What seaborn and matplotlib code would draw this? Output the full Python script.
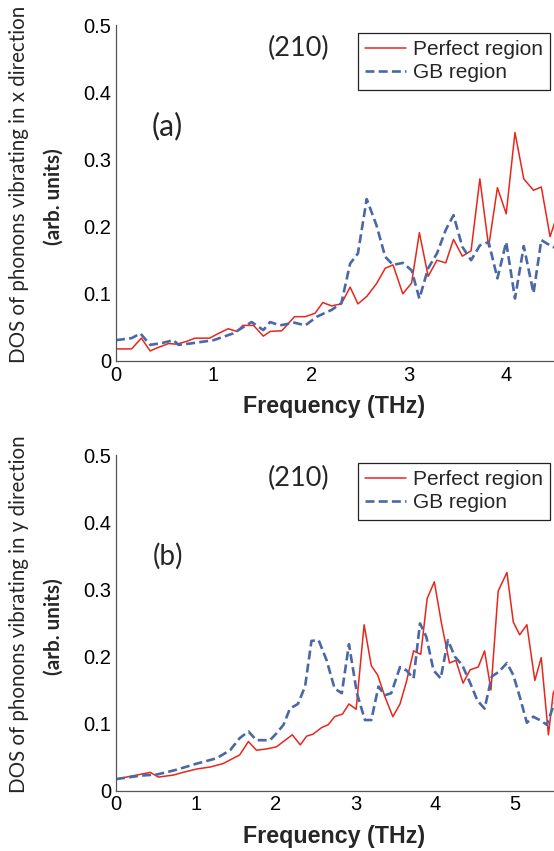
import numpy as np
import pandas as pd
import matplotlib
matplotlib.use("Agg")
import matplotlib.pyplot as plt
import seaborn as sns

# ---------------- data ----------------
# Panel (a): x direction
freq_a_perfect = [0.00, 0.16, 0.26, 0.35, 0.43, 0.54, 0.62, 0.72, 0.81, 0.96, 1.05, 1.15, 1.24,
                  1.30, 1.41, 1.51, 1.58, 1.70, 1.83, 1.94, 2.04, 2.12, 2.21, 2.31, 2.40, 2.48,
                  2.57, 2.67, 2.76, 2.84, 2.94, 3.03, 3.11, 3.20, 3.29, 3.38, 3.46, 3.55, 3.64,
                  3.73, 3.82, 3.91, 4.00, 4.09, 4.18, 4.28, 4.36, 4.45, 4.55]
dos_a_perfect = [0.018, 0.018, 0.034, 0.015, 0.020, 0.026, 0.025, 0.029, 0.034, 0.034, 0.041, 0.048, 0.044,
                 0.053, 0.053, 0.037, 0.044, 0.045, 0.066, 0.066, 0.071, 0.087, 0.082, 0.085, 0.110, 0.085,
                 0.096, 0.115, 0.138, 0.143, 0.100, 0.116, 0.191, 0.126, 0.150, 0.146, 0.181, 0.156, 0.164,
                 0.271, 0.170, 0.258, 0.219, 0.340, 0.271, 0.254, 0.259, 0.185, 0.230]
freq_a_gb = [0.00, 0.16, 0.25, 0.35, 0.48, 0.59, 0.64, 0.76, 1.00, 1.20, 1.39, 1.51, 1.58, 1.68,
             1.83, 1.94, 2.06, 2.21, 2.31, 2.40, 2.48, 2.57, 2.67, 2.76, 2.84, 2.94, 3.03, 3.11,
             3.20, 3.29, 3.38, 3.46, 3.55, 3.64, 3.73, 3.82, 3.91, 4.00, 4.09, 4.18, 4.28, 4.36,
             4.45, 4.55]
dos_a_gb = [0.031, 0.034, 0.041, 0.024, 0.027, 0.031, 0.024, 0.026, 0.031, 0.041, 0.058, 0.046, 0.058, 0.053,
            0.057, 0.053, 0.066, 0.076, 0.086, 0.145, 0.160, 0.241, 0.202, 0.155, 0.143, 0.146, 0.135, 0.093,
            0.138, 0.160, 0.195, 0.217, 0.170, 0.150, 0.172, 0.177, 0.123, 0.177, 0.093, 0.171, 0.101, 0.180,
            0.172, 0.165]

# Panel (b): y direction
freq_b_perfect = [0.00, 0.43, 0.53, 0.72, 0.84, 1.01, 1.18, 1.34, 1.55, 1.66, 1.76, 1.89, 2.01,
                  2.21, 2.31, 2.39, 2.47, 2.58, 2.66, 2.74, 2.84, 2.92, 3.01, 3.11, 3.20, 3.28,
                  3.37, 3.47, 3.56, 3.64, 3.73, 3.82, 3.90, 3.99, 4.08, 4.18, 4.26, 4.35, 4.44,
                  4.54, 4.62, 4.70, 4.79, 4.90, 4.98, 5.06, 5.15, 5.25, 5.33, 5.42, 5.48, 5.56]
dos_b_perfect = [0.017, 0.027, 0.020, 0.023, 0.027, 0.032, 0.035, 0.040, 0.053, 0.073, 0.060, 0.062, 0.065,
                 0.083, 0.068, 0.081, 0.084, 0.094, 0.098, 0.110, 0.114, 0.129, 0.121, 0.247, 0.186, 0.172,
                 0.140, 0.110, 0.129, 0.162, 0.208, 0.203, 0.286, 0.311, 0.249, 0.190, 0.194, 0.160, 0.180,
                 0.184, 0.208, 0.150, 0.297, 0.325, 0.251, 0.232, 0.247, 0.164, 0.198, 0.083, 0.145, 0.165]
freq_b_gb = [0.00, 0.30, 0.52, 0.76, 1.01, 1.26, 1.43, 1.55, 1.66, 1.76, 1.93, 2.01, 2.10, 2.18,
             2.28, 2.37, 2.45, 2.54, 2.64, 2.74, 2.83, 2.92, 3.02, 3.12, 3.20, 3.29, 3.37, 3.45,
             3.56, 3.64, 3.73, 3.81, 3.89, 3.98, 4.07, 4.16, 4.25, 4.34, 4.44, 4.53, 4.62, 4.71,
             4.80, 4.90, 4.98, 5.06, 5.15, 5.23, 5.31, 5.40, 5.48, 5.56]
dos_b_gb = [0.017, 0.022, 0.024, 0.031, 0.040, 0.048, 0.060, 0.078, 0.088, 0.075, 0.075, 0.085, 0.098, 0.122,
            0.129, 0.155, 0.223, 0.224, 0.194, 0.152, 0.145, 0.218, 0.145, 0.105, 0.105, 0.155, 0.142, 0.145,
            0.184, 0.179, 0.167, 0.249, 0.229, 0.179, 0.167, 0.224, 0.199, 0.187, 0.160, 0.134, 0.122, 0.170,
            0.177, 0.190, 0.172, 0.140, 0.101, 0.110, 0.105, 0.098, 0.125, 0.145]

labels = ["Perfect region", "GB region"]
x_ticks_a = [0, 1, 2, 3, 4]
x_ticks_b = [0, 1, 2, 3, 4, 5]
y_ticks = [0, 0.1, 0.2, 0.3, 0.4, 0.5]
y_tick_labels = ["0", "0.1", "0.2", "0.3", "0.4", "0.5"]

# ---------------- style ----------------
sns.set_style("white")
plt.rcParams["font.family"] = ["Liberation Sans", "DejaVu Sans"]

RED = "#e8261c"
BLUE = "#4a68a6"
W, H = 554, 851
fig = plt.figure(figsize=(W / 100, H / 100), dpi=100)

def fx(px):
    return px / W

def fy(py):
    return 1 - py / H

def make_df(fp, dp, fg, dg):
    return pd.concat([
        pd.DataFrame({"freq": fp, "dos": dp, "region": labels[0]}),
        pd.DataFrame({"freq": fg, "dos": dg, "region": labels[1]}),
    ], ignore_index=True)

panels = [
    dict(df=make_df(freq_a_perfect, dos_a_perfect, freq_a_gb, dos_a_gb),
         top=25, bottom=361, xmax=4.49, xticks=x_ticks_a,
         ylab="DOS of phonons vibrating in x direction", tag="(a)"),
    dict(df=make_df(freq_b_perfect, dos_b_perfect, freq_b_gb, dos_b_gb),
         top=455, bottom=790.5, xmax=5.49, xticks=x_ticks_b,
         ylab="DOS of phonons vibrating in y direction", tag="(b)"),
]

renderer = fig.canvas.get_renderer()

def fit_text(x, y, s, target_w, rotation=0, **kw):
    t = fig.text(x, y, s, rotation=rotation, ha="center", va="center", **kw)
    bb = t.get_window_extent(renderer=renderer)
    size = bb.height if rotation == 90 else bb.width
    t.set_fontsize(t.get_fontsize() * target_w / size)
    return t

for p in panels:
    ax = fig.add_axes([fx(116), fy(p["bottom"]), fx(W - 116), (p["bottom"] - p["top"]) / H])
    sns.lineplot(data=p["df"], x="freq", y="dos", hue="region", style="region",
                 palette={labels[0]: RED, labels[1]: BLUE},
                 dashes={labels[0]: "", labels[1]: (3.4, 1.6)},
                 size="region", sizes={labels[0]: 1.1, labels[1]: 1.9},
                 sort=False, estimator=None, ax=ax)
    ax.set_xlim(0, p["xmax"])
    ax.set_ylim(0, 0.5)
    ax.set_xticks(p["xticks"])
    ax.set_xticklabels([str(v) for v in p["xticks"]])
    ax.set_yticks(y_ticks)
    ax.set_yticklabels(y_tick_labels)
    ax.tick_params(direction="in", length=3, width=0.8, color="#555555",
                   labelsize=14.5, labelcolor="black", pad=3.5)
    for s in ["top", "right"]:
        ax.spines[s].set_visible(False)
    for s in ["left", "bottom"]:
        ax.spines[s].set_color("#555555")
        ax.spines[s].set_linewidth(0.9)
    ax.set_xlabel("")
    ax.set_ylabel("")
    ax.set_facecolor("none")
    ax.patch.set_alpha(0)

    leg = ax.legend(loc="upper right", bbox_to_anchor=(fx(550), fy(p["top"] + 8)),
                    bbox_transform=fig.transFigure, borderaxespad=0,
                    fontsize=15, labelspacing=0.2, borderpad=0.35,
                    handlelength=2.0, handletextpad=0.3, fancybox=False,
                    framealpha=1, edgecolor="#222222")
    leg.get_frame().set_linewidth(0.9)

    # axis labels
    fit_text(fx(334), fy(p["bottom"] + 46), "Frequency (THz)", 182,
             fontweight="bold", family=["Liberation Sans", "DejaVu Sans"])
    mid = p["top"] + 159
    fit_text(fx(19), fy(mid), p["ylab"], 358, rotation=90,
             family=["Lato", "DejaVu Sans"])
    fit_text(fx(54), fy(p["top"] + 172), "(arb. units)", 97, rotation=90,
             fontweight="bold", family=["Lato", "DejaVu Sans"])
    # annotations
    fit_text(fx(299), fy(p["top"] + 23), "(210)", 62, family=["Lato", "DejaVu Sans"])
    fit_text(fx(167.5), fy(p["top"] + 101), p["tag"], 31, family=["Lato", "DejaVu Sans"])

fig.savefig("out.png", dpi=100)
